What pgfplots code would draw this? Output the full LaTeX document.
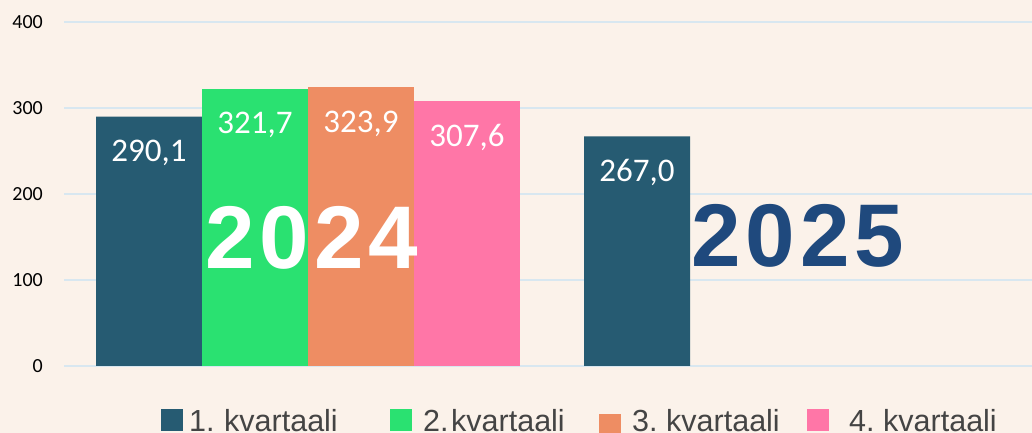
\documentclass[border=0pt]{standalone}
\usepackage{fontspec}
\setmainfont{Carlito}
\newfontfamily\arial{Liberation Sans}
\usepackage{pgfplots}
\pgfplotsset{compat=1.18}
\definecolor{bg}{HTML}{FBF2EA}
\definecolor{gridc}{HTML}{D8E7F0}
\definecolor{q1}{HTML}{265B72}
\definecolor{q2}{HTML}{2AE171}
\definecolor{q3}{HTML}{EE8D63}
\definecolor{q4}{HTML}{FF76A7}
\definecolor{yearc}{HTML}{1F497D}
\definecolor{legc}{HTML}{444444}
\tikzset{legtext/.style={anchor=base west, inner sep=0pt, text=legc, font=\arial\fontsize{30.5}{30.5}\selectfont}}
\begin{document}
\begin{tikzpicture}[x=1pt,y=1pt]
\useasboundingbox (0,0) rectangle (1032,433);
\clip (0,0) rectangle (1032,433);
\fill[bg] (0,0) rectangle (1032,433);
\begin{axis}[
  at={(64pt,67pt)}, anchor=south west,
  scale only axis, width=968pt, height=344pt,
  xmin=-0.5, xmax=1.4836, ymin=0, ymax=400,
  ybar=0pt, bar width=106pt,
  axis line style={draw=none},
  major tick length=0pt,
  xtick=\empty,
  ytick={0,100,200,300,400},
  ymajorgrids,
  grid style={color=gridc, line width=2pt},
  /pgf/number format/assume math mode=true,
  yticklabel style={font=\fontsize{20}{20}\selectfont, text=black, anchor=east, inner sep=0pt, xshift=-21pt},
  nodes near coords={\pgfmathprintnumber[fixed,fixed zerofill,precision=1,use comma,assume math mode=true]{\pgfplotspointmeta}},
  every node near coord/.append style={anchor=north, yshift=-23pt, inner sep=0pt, text=white, font=\fontsize{33}{33}\selectfont},
  clip=false,
]
\addplot[fill=q1, draw=none] coordinates {(0,290.1) (1,267.0)};
\addplot[fill=q2, draw=none] coordinates {(0,321.7)};
\addplot[fill=q3, draw=none] coordinates {(0,323.9)};
\addplot[fill=q4, draw=none] coordinates {(0,307.6)};
\end{axis}
\node[inner sep=0pt, text=white, font=\arial\bfseries\fontsize{89}{89}\selectfont] at (312,195) {2\kern5pt0\kern5pt2\kern5pt4};
\node[inner sep=0pt, text=yearc, font=\arial\bfseries\fontsize{89}{89}\selectfont] at (798,197.5) {2\kern5pt0\kern5pt2\kern5pt5};
\fill[q1] (161,2) rectangle (183,24);
\node[legtext] at (189,1.5) {1.};
\node[legtext] at (224,1.5) {kvartaali};
\fill[q2] (390,2) rectangle (412,24);
\node[legtext] at (423,1.5) {2.};
\node[legtext] at (451,1.5) {kvartaali};
\fill[q3] (599,-3) rectangle (621,19);
\node[legtext] at (632,1.5) {3.};
\node[legtext] at (666,1.5) {kvartaali};
\fill[q4] (807,2) rectangle (829,24);
\node[legtext] at (849,1.5) {4.};
\node[legtext] at (883,1.5) {kvartaali};
\end{tikzpicture}
\end{document}
